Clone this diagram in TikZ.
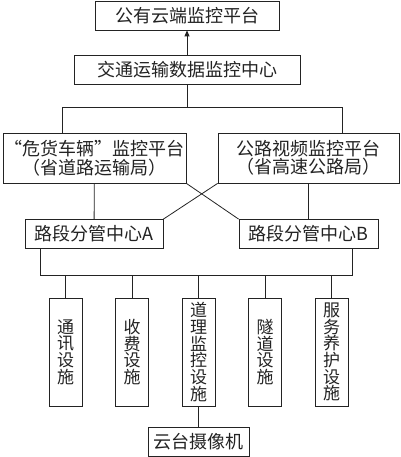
\documentclass[tikz,border=0pt]{standalone}
\usepackage{fontspec}
\setmainfont{Noto Sans CJK SC}
\usepackage{tikz}
\usetikzlibrary{arrows.meta}
\definecolor{ink}{RGB}{35,35,35}
\tikzset{
  box/.style={draw=ink, line width=0.8pt, fill=white, align=center, inner sep=0pt, minimum width=#1, minimum height=29pt, font=\fontsize{18}{18.5}\selectfont, text=ink},
  box/.default={184pt},
  twoline/.style={box=#1, minimum height=50pt},
  vbox/.style={draw=ink, line width=0.8pt, fill=white, align=center, inner sep=0pt, minimum width=33pt, minimum height=108pt, text width=20pt, font=\fontsize{17}{16.7}\selectfont, text=ink},
  link/.style={draw=ink, line width=0.8pt},
  arrow/.style={-{Triangle[length=6pt, width=5pt]}, line width=0.8pt, draw=ink}
}

\begin{document}
\begin{tikzpicture}[x=1pt, y=-1pt]
    \useasboundingbox (0,0) rectangle (400,457);
    \node[box=184pt] (cloud) at (187,15.5) {公有云端监控平台};
    \node[box=226pt] (center) at (187,69.5) {交通运输数据监控中心};
    \node[twoline=183pt] (hazard) at (94.5,158) {“危货车辆”监控平台\\（省道路运输局）};
    \node[twoline=181pt] (video) at (308.5,158) {公路视频监控平台\\（省高速公路局）};
    \node[box=138pt] (secA) at (94,234) {路段分管中心A};
    \node[box=139pt] (secB) at (308.5,234) {路段分管中心B};
    \node[vbox] (comm) at (65.5,352) {通\\讯\\设\\施};
    \node[vbox] (toll) at (132,352) {收\\费\\设\\施};
    \node[vbox] (road) at (198.5,352) {道\\理\\监\\控\\设\\施};
    \node[vbox] (tunnel) at (265,352) {隧\\道\\设\\施};
    \node[vbox] (service) at (331.5,352) {服\\务\\养\\护\\设\\施};
    \node[box=101pt] (cam) at (198.5,441.5) {云台摄像机};
    \coordinate (tl) at (62,107);
    \coordinate (tr) at (342,107);
    \coordinate (bl) at (40,275);
    \coordinate (br) at (352,275);
    \draw[arrow] (center) -- (cloud);
    \draw[link] (center) -- (center |- tl);
    \draw[link] (hazard.north -| tl) -- (tl) -- (tr) -- (video.north -| tr);
    \draw[link] (hazard) -- (secA);
    \draw[link] (video) -- (secB);
    \draw[link] (hazard.south east) -- (secB.north west);
    \draw[link] (video.south west) -- (secA.north east);
    \draw[link] (secA.south -| bl) -- (bl) -- (br) -- (secB.south -| br);
    \foreach \n in {comm,toll,road,tunnel,service} \draw[link] (\n.north) -- (\n.north |- bl);
    \draw[link] (road) -- (cam);
  \end{tikzpicture}
\end{document}
